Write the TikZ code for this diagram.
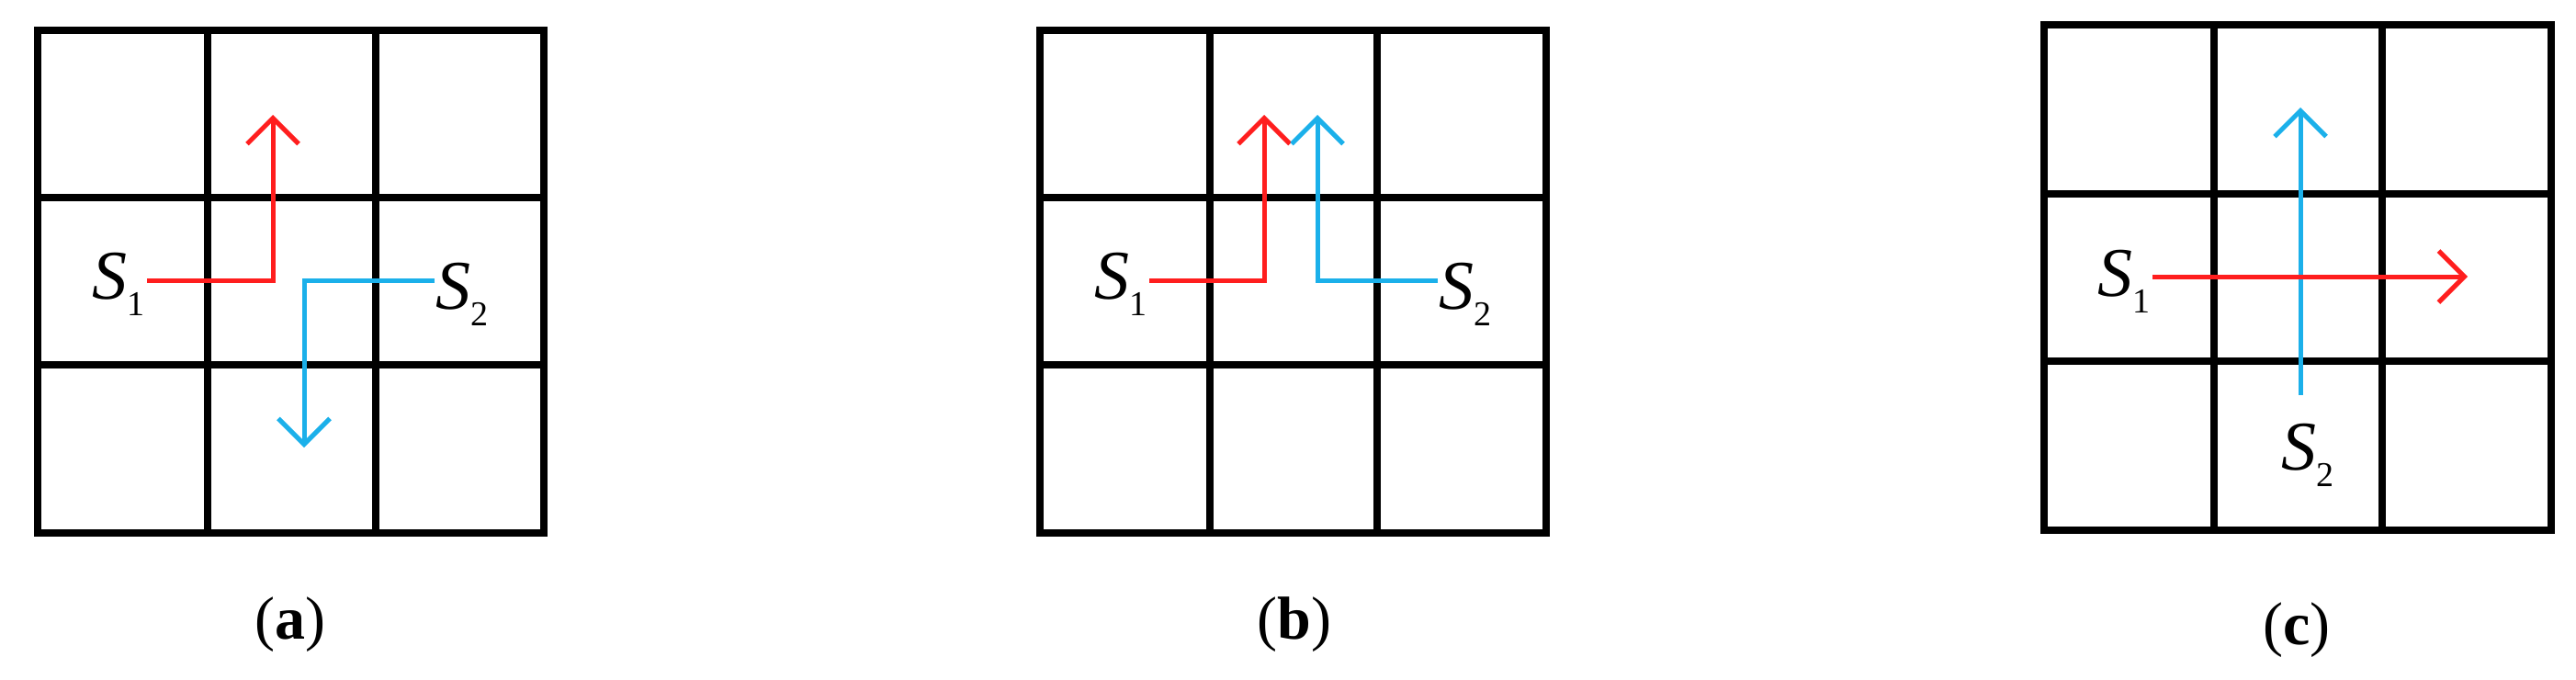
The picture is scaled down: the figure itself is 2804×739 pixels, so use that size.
\documentclass[tikz,border=0pt]{standalone}
\usepackage{fontspec}
\setmainfont{Liberation Serif}
\usetikzlibrary{arrows.meta}
\definecolor{rd}{RGB}{255,30,30}
\definecolor{bl}{RGB}{27,176,234}
\newcommand{\Slab}[1]{\textit{S}\raisebox{-18pt}{\fontsize{38}{38}\selectfont #1}}
\begin{document}
\begin{tikzpicture}[x=1pt,y=-1pt,
  gridline/.style={line width=8pt,black,line cap=rect},
  redpath/.style={rd,line width=5pt,-{Straight Barb[length=28pt,width=56pt,line width=5pt]}},
  bluepath/.style={bl,line width=5pt,-{Straight Barb[length=28pt,width=56pt,line width=5pt]}},
  slabel/.style={inner sep=0pt,font=\fontsize{76}{76}\selectfont},
  caplabel/.style={inner sep=0pt,font=\fontsize{66}{66}\selectfont}]
\useasboundingbox (0,0) rectangle (2804,739);
% panel a
\foreach \x in {41,226,409,592} \draw[gridline] (\x,33) -- (\x,580);
\foreach \y in {33,215,397,580} \draw[gridline] (41,\y) -- (592,\y);
\coordinate (a1s) at (160,305); \coordinate (a1c) at (297,305); \coordinate (a1e) at (297,125);
\coordinate (a2s) at (473,305); \coordinate (a2c) at (331,305); \coordinate (a2e) at (331,487);
\draw[redpath] (a1s) -- (a1c) -- (a1e);
\draw[bluepath] (a2s) -- (a2c) -- (a2e);
\node[slabel,anchor=east] (aS1) at (158,309) {\Slab{1}};
\node[slabel,anchor=west] (aS2) at (474,320) {\Slab{2}};
\node[caplabel] (acap) at (316,680) {(\textbf{a})};
% panel b
\foreach \x in {1132,1317,1499,1683} \draw[gridline] (\x,33) -- (\x,580);
\foreach \y in {33,215,397,580} \draw[gridline] (1132,\y) -- (1683,\y);
\coordinate (b1s) at (1251,305); \coordinate (b1c) at (1376,305); \coordinate (b1e) at (1376,125);
\coordinate (b2s) at (1565,305); \coordinate (b2c) at (1434,305); \coordinate (b2e) at (1434,125);
\draw[redpath] (b1s) -- (b1c) -- (b1e);
\draw[bluepath] (b2s) -- (b2c) -- (b2e);
\node[slabel,anchor=east] (bS1) at (1249,309) {\Slab{1}};
\node[slabel,anchor=west] (bS2) at (1566,320) {\Slab{2}};
\node[caplabel] (bcap) at (1409,680) {(\textbf{b})};
% panel c
\foreach \x in {2225,2410,2593,2777} \draw[gridline] (\x,27) -- (\x,577);
\foreach \y in {27,211,393,577} \draw[gridline] (2225,\y) -- (2777,\y);
\coordinate (c2s) at (2504,430); \coordinate (c2e) at (2504,117);
\coordinate (c1s) at (2343,301); \coordinate (c1e) at (2686,301);
\draw[bluepath] (c2s) -- (c2e);
\draw[redpath] (c1s) -- (c1e);
\node[slabel,anchor=east] (cS1) at (2341,306) {\Slab{1}};
\node[slabel] (cS2) at (2512,495) {\Slab{2}};
\node[caplabel] (ccap) at (2500,686) {(\textbf{c})};
\end{tikzpicture}
\end{document}
